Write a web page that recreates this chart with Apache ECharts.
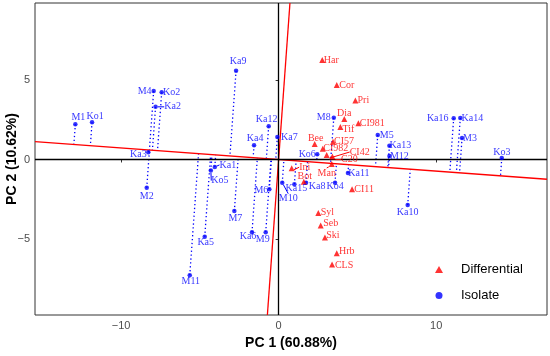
<!DOCTYPE html>
<html>
<head>
<meta charset="utf-8">
<script src="https://cdn.jsdelivr.net/npm/echarts@6/dist/echarts.min.js"></script>
<style>html,body{margin:0;padding:0;background:#fff}#c{width:550px;height:356px}</style>
</head>
<body>
<div id="c"></div>
<script>
// ---- data ----
const isoNames = ['M1','Ko1','M4','Ko2','Ka2','Ka3','Ka9','Ka12','Ka4','Ka7','M2','Ka1','Ko5','M7','Ka5','M11','Ka6','M9','M6','M8','Ko6','M5','Ka13','M12','Ka16','Ka14','M3','Ko3','Ka11','Ka15','M10','Ka8','Ko4','Ka10'];
const isoX = [-12.9,-11.84,-7.93,-7.42,-7.81,-8.27,-2.70,-0.63,-1.56,-0.08,-8.37,-4.05,-4.30,-2.81,-4.69,-5.64,-1.69,-0.82,-0.59,3.50,2.45,6.29,7.03,7.03,11.11,11.53,11.64,14.16,4.40,1.00,0.23,1.74,3.58,8.19];
const isoY = [2.22,2.34,4.30,4.22,3.31,0.45,5.58,2.09,0.89,1.42,-1.78,-0.47,-0.70,-3.24,-4.86,-7.28,-4.57,-4.57,-1.87,2.63,0.33,1.54,0.87,0.22,2.60,2.61,1.35,0.09,-0.85,-1.56,-1.46,-1.46,-1.46,-2.87];

const diffNames = ['Har','Cor','Pri','Dia','CI981','Tif','Bee','CI57','CI982','CI42','C20','Ini','Bot','Man','CI11','Syl','Seb','Ski','Hrb','CLS'];
const diffX = [2.77,3.69,4.87,4.17,5.06,3.92,2.29,3.45,2.80,3.05,3.41,0.83,1.60,3.37,4.66,2.52,2.67,2.94,3.69,3.39];
const diffY = [6.25,4.69,3.71,2.55,2.28,2.05,0.98,1.12,0.68,0.28,0.18,-0.55,-1.40,-0.28,-1.88,-3.37,-4.15,-4.90,-5.89,-6.60];

const pcSlope = -0.073;          // slope of the fitted axis line
const xTicks = [-10, 0, 10];
const yTicks = [-5, 0, 5];
const xRange = [-15.46, 17.03];
const yRange = [-9.78, 9.84];

// label offsets (px) relative to point, and which have leader lines
const labelOff = {
  M1:[3,-7],Ko1:[3,-6],M4:[-9,0],Ko2:[10,0],Ka2:[17,0],Ka3:[-10,2],Ka9:[2,-9],Ka12:[-2,-7],Ka4:[1,-7],Ka7:[12,0],
  M2:[0,9],Ka1:[13,-2],Ko5:[9,10],M7:[1,7],Ka5:[1,6],M11:[1,6],Ka6:[-4,4],M9:[-3,7],M6:[-8,1],M8:[-10,0],
  Ko6:[-10,0],M5:[9,0],Ka13:[11,0],M12:[10,0],Ka16:[-16,0],Ka14:[12,0],M3:[8,0],Ko3:[0,-6],Ka11:[11,0],
  Ka15:[2,4],M10:[6,16],Ka8:[11,4],Ko4:[0,4],Ka10:[0,7],
  Har:[9,0],Cor:[10,0],Pri:[8,0],Dia:[0,-6],CI981:[14,0],Tif:[8,2],Bee:[1,-6],CI57:[11,0],CI982:[13,0],
  CI42:[33,-3],C20:[17,3],Ini:[13,-1],Bot:[1,-5],Man:[-5,9],CI11:[12,0],Syl:[9,-1],Seb:[10,-2],Ski:[8,-2],Hrb:[10,-2],CLS:[12,1]
};
const leaders = ['Ka2','Ka1','Ko5','M10','CI42','C20','Ini','Man'];

// ---- build ----
const BLUE = '#0000ff', RED = '#ff0000';
function items(names, xs, ys) {
  return names.map((n, i) => {
    const it = { name: n, value: [xs[i], ys[i]] };
    if (leaders.indexOf(n) >= 0) it.labelLine = { show: true };
    return it;
  });
}
const isoData = items(isoNames, isoX, isoY);
const diffData = items(diffNames, diffX, diffY);

// orthogonal projections of isolates onto the fitted line
const projData = isoX.map((x0, i) => {
  const y0 = isoY[i];
  const t = (x0 + pcSlope * y0) / (1 + pcSlope * pcSlope);
  return { coords: [[x0, y0], [t, pcSlope * t]] };
});
const perp = -1 / pcSlope;
const redLines = [
  { coords: [[xRange[0], pcSlope * xRange[0]], [xRange[1], pcSlope * xRange[1]]] },
  { coords: [[yRange[0] / perp, yRange[0]], [yRange[1] / perp, yRange[1]]] }
];

function layoutFn(series) {
  return function (p) {
    const n = series[p.dataIndex].name;
    const o = labelOff[n] || [0, 0];
    return { dx: o[0], dy: o[1] };
  };
}
const labelFont = { fontFamily: 'Liberation Serif', fontSize: 10 };

const chart = echarts.init(document.getElementById('c'), null, { renderer: 'canvas' });
chart.setOption({
  animation: false,
  backgroundColor: '#fff',
  grid: { left: 35, right: 3, top: 3, bottom: 41, show: true, borderColor: '#333', borderWidth: 1, backgroundColor: 'transparent',
    outerBoundsMode: 'none', containLabel: false },
  xAxis: {
    type: 'value', min: xRange[0], max: xRange[1],
    name: 'PC 1 (60.88%)', nameLocation: 'middle', nameGap: 21, nameMoveOverlap: false,
    nameTextStyle: { fontFamily: 'Liberation Sans', fontWeight: 'bold', fontSize: 14, color: '#000' },
    axisLine: { show: false },
    axisTick: { show: true, length: 3, lineStyle: { color: '#333' }, customValues: xTicks },
    axisLabel: { customValues: xTicks, margin: 5, color: '#4d4d4d', fontFamily: 'Liberation Sans', fontSize: 11,
      formatter: v => (v < 0 ? '\u2212' + Math.abs(v) : String(v)) },
    splitLine: { show: false }
  },
  yAxis: {
    type: 'value', min: yRange[0], max: yRange[1],
    name: 'PC 2 (10.62%)', nameLocation: 'middle', nameGap: 16, nameRotate: 90, nameMoveOverlap: false,
    nameTextStyle: { fontFamily: 'Liberation Sans', fontWeight: 'bold', fontSize: 14, color: '#000' },
    axisLine: { show: false },
    axisTick: { show: true, length: 3, lineStyle: { color: '#333' }, customValues: yTicks },
    axisLabel: { customValues: yTicks, margin: 5, color: '#4d4d4d', fontFamily: 'Liberation Sans', fontSize: 11,
      formatter: v => (v < 0 ? '\u2212' + Math.abs(v) : String(v)) },
    splitLine: { show: false }
  },
  legend: {
    orient: 'vertical', left: 430, top: 258, itemGap: 13, itemWidth: 8, itemHeight: 7,
    textStyle: { fontFamily: 'Liberation Sans', fontSize: 13, color: '#000', padding: [0, 0, 0, 13] },
    data: [{ name: 'Differential', icon: 'triangle' }, { name: 'Isolate', icon: 'circle' }]
  },
  series: [
    {
      type: 'scatter', name: 'zero', data: [], silent: true,
      markLine: { silent: true, symbol: 'none', label: { show: false },
        lineStyle: { color: '#000', width: 1.3, type: 'solid' },
        data: [{ xAxis: 0 }, { yAxis: 0 }] }, z: 1
    },
    {
      type: 'lines', coordinateSystem: 'cartesian2d', name: 'proj', silent: true, z: 2,
      lineStyle: { color: BLUE, width: 1.3, type: [1.3, 2.6], opacity: 1 },
      data: projData
    },
    {
      type: 'lines', coordinateSystem: 'cartesian2d', name: 'fit', silent: true, z: 3,
      lineStyle: { color: RED, width: 1.3, type: 'solid', opacity: 1 },
      data: redLines
    },
    {
      type: 'scatter', name: 'Isolate', symbol: 'circle', symbolSize: 4.5, z: 5,
      itemStyle: { color: BLUE },
      label: { show: true, position: 'inside', formatter: '{b}', color: BLUE, ...labelFont },
      labelLine: { show: false, lineStyle: { color: BLUE, width: 1 } },
      labelLayout: layoutFn(isoData),
      data: isoData
    },
    {
      type: 'scatter', name: 'Differential', symbol: 'triangle', symbolSize: 6, z: 5,
      itemStyle: { color: RED },
      label: { show: true, position: 'inside', formatter: '{b}', color: RED, ...labelFont },
      labelLine: { show: false, lineStyle: { color: RED, width: 1 } },
      labelLayout: layoutFn(diffData),
      data: diffData
    }
  ]
});
</script>
</body>
</html>
